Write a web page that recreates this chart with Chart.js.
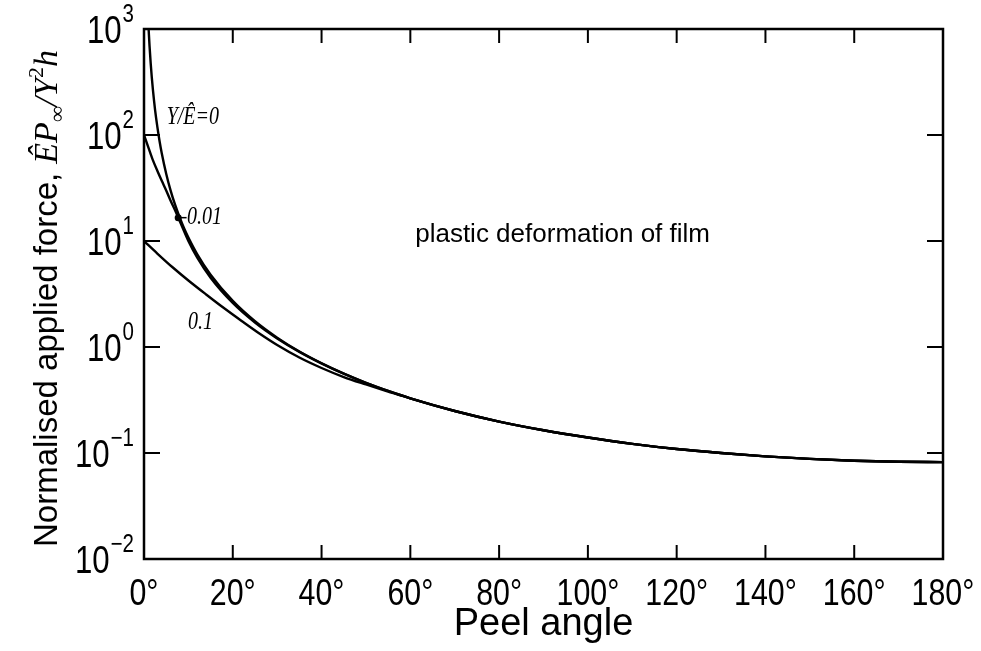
<!DOCTYPE html>
<html>
<head>
<meta charset="utf-8">
<script src="https://cdn.jsdelivr.net/npm/chart.js@4.4.1/dist/chart.umd.min.js"></script>
<style>
  html, body { margin: 0; padding: 0; background: #fff; }
</style>
</head>
<body>
<canvas id="peel" width="981" height="651"></canvas>
<script>
// valeurs : angle de pelage (deg) -> force normalisée
const angles0 = [1.04, 1.25, 1.5, 1.75, 2, 2.5, 3, 3.5, 4, 5, 6, 7, 8, 9, 10, 12, 15, 20, 25, 30, 35, 40, 45, 50, 55, 60, 70, 80, 90, 100, 110, 120, 130, 140, 150, 160, 170, 180];
const force0 = [1000, 689, 479, 352, 269, 172, 120, 87.9, 67.3, 43.1, 29.9, 22.0, 16.9, 13.3, 10.8, 7.50, 4.81, 2.72, 1.75, 1.224, 0.906, 0.701, 0.56, 0.459, 0.385, 0.328, 0.249, 0.198, 0.164, 0.140, 0.122, 0.109, 0.100, 0.093, 0.088, 0.0845, 0.0826, 0.082];

const angles001 = [0, 1, 2, 3, 4, 5, 6, 7, 8, 10, 12, 15, 20, 25, 30, 35, 40, 45, 50, 55, 60, 70, 80, 90, 100, 110, 120, 130, 140, 150, 160, 170, 180];
const force001 = [100, 76, 58, 46, 37, 30, 24, 19.5, 15.6, 10.0, 6.95, 4.5, 2.6, 1.70, 1.205, 0.90, 0.70, 0.56, 0.459, 0.385, 0.328, 0.249, 0.198, 0.164, 0.140, 0.122, 0.109, 0.100, 0.093, 0.088, 0.0845, 0.0826, 0.082];

const angles01 = [0, 3, 6.5, 10, 14, 18, 22, 26, 30, 35, 40, 45, 50, 55, 60, 70, 80, 90, 100, 110, 120, 130, 140, 150, 160, 170, 180];
const force01 = [10, 7.62, 5.62, 4.24, 3.13, 2.33, 1.76, 1.34, 1.044, 0.796, 0.634, 0.521, 0.443, 0.380, 0.327, 0.249, 0.198, 0.164, 0.140, 0.122, 0.109, 0.100, 0.093, 0.088, 0.0845, 0.0826, 0.082];

const xTicks = [0, 20, 40, 60, 80, 100, 120, 140, 160, 180];
const yTicks = [0.01, 0.1, 1, 10, 100, 1000];
const yExpo = ['\u22122', '\u22121', '0', '1', '2', '3'];

const sans = "'Liberation Sans', Arial, sans-serif";
const serif = "'Liberation Serif', 'Times New Roman', serif";

function pts(xs, ys) {
  return xs.map((v, i) => ({ x: v, y: ys[i] }));
}

function serie(xs, ys) {
  return {
    data: pts(xs, ys),
    borderColor: '#000',
    borderWidth: 2.4,
    pointRadius: 0,
    cubicInterpolationMode: 'monotone',
    fill: false
  };
}

// texte un peu condensé (la figure d'origine est resserrée en largeur)
function txt(ctx, s, x, y, font, align, sx) {
  ctx.save();
  ctx.translate(x, y);
  ctx.scale(sx, 1);
  ctx.font = font;
  ctx.textAlign = align;
  ctx.fillText(s, 0, 0);
  ctx.restore();
}

// ticks vers l'intérieur, cadre, étiquettes, titre Y et annotations
const decor = {
  id: 'decor',
  afterDraw(chart) {
    const { ctx, chartArea: a, scales: { x, y } } = chart;
    const seg = (x1, y1, x2, y2) => { ctx.beginPath(); ctx.moveTo(x1, y1); ctx.lineTo(x2, y2); ctx.stroke(); };
    ctx.save();
    ctx.strokeStyle = '#000';
    ctx.fillStyle = '#000';
    ctx.lineWidth = 2;
    xTicks.forEach(v => {
      const px = x.getPixelForValue(v);
      seg(px, a.bottom, px, a.bottom - 14);
      seg(px, a.top, px, a.top + 14);
    });
    yTicks.forEach(v => {
      const py = y.getPixelForValue(v);
      seg(a.left, py, a.left + 16, py);
      seg(a.right, py, a.right - 16, py);
    });
    ctx.lineWidth = 2.5;
    ctx.strokeRect(a.left, a.top, a.right - a.left, a.bottom - a.top);

    ctx.textBaseline = 'alphabetic';
    // étiquettes de l'axe x
    xTicks.forEach(v => {
      txt(ctx, v + '\u00B0', x.getPixelForValue(v), a.bottom + 46, '37px ' + sans, 'center', 0.82);
    });
    // étiquettes de l'axe y : 10 puis exposant
    yTicks.forEach((v, i) => {
      const py = y.getPixelForValue(v);
      ctx.font = '25px ' + sans;
      const we = ctx.measureText(yExpo[i]).width * 0.82;
      const xe = a.left - 10 - we;
      txt(ctx, yExpo[i], xe, py - 7, '25px ' + sans, 'left', 0.82);
      txt(ctx, '10', xe - 1, py + 14, '38px ' + sans, 'right', 0.82);
    });

    // titre de l'axe y (tourné)
    const parts = [
      { t: 'Normalised applied force, ', f: '33px ' + sans, dy: 0 },
      { t: '\u00CA', f: 'italic 34px ' + serif, dy: 0 },
      { t: 'P', f: 'italic 34px ' + serif, dy: 0 },
      { t: '\u221E', f: 'italic 22px ' + serif, dy: 7 },
      { t: '/', f: 'italic 34px ' + serif, dy: 0 },
      { t: 'Y', f: 'italic 34px ' + serif, dy: 0 },
      { t: '2', f: '22px ' + serif, dy: -14 },
      { t: 'h', f: 'italic 34px ' + serif, dy: 0 }
    ];
    ctx.save();
    ctx.translate(57, 547);
    ctx.rotate(-Math.PI / 2);
    ctx.textAlign = 'left';
    let off = 0;
    parts.forEach(p => {
      ctx.font = p.f;
      ctx.fillText(p.t, off, p.dy);
      off += ctx.measureText(p.t).width;
    });
    ctx.restore();

    // annotations des courbes
    ctx.textBaseline = 'middle';
    const fIt = 'italic 25px ' + serif;
    txt(ctx, 'Y/\u00CA=0', x.getPixelForValue(5.1), y.getPixelForValue(146), fIt, 'left', 0.8);
    const dx = x.getPixelForValue(7.7), dy = y.getPixelForValue(16.6);
    ctx.beginPath();
    ctx.arc(dx, dy, 3.5, 0, Math.PI * 2);
    ctx.fill();
    ctx.lineWidth = 1.5;
    seg(dx, dy, x.getPixelForValue(9.6), dy);
    txt(ctx, '0.01', x.getPixelForValue(9.7), dy, fIt, 'left', 0.8);
    txt(ctx, '0.1', x.getPixelForValue(9.9), y.getPixelForValue(1.72), fIt, 'left', 0.8);

    txt(ctx, 'plastic deformation of film', x.getPixelForValue(94.3), y.getPixelForValue(11.4), '26px ' + sans, 'center', 1);
    ctx.restore();
  }
};

new Chart(document.getElementById('peel'), {
  type: 'line',
  data: {
    datasets: [serie(angles0, force0), serie(angles001, force001), serie(angles01, force01)]
  },
  options: {
    responsive: false,
    animation: false,
    layout: { padding: { left: 0, right: 38, top: 29, bottom: 0 } },
    plugins: { legend: { display: false }, tooltip: { enabled: false } },
    scales: {
      x: {
        type: 'linear',
        min: 0,
        max: 180,
        grid: { display: false, drawTicks: false },
        border: { display: false },
        afterBuildTicks: s => { s.ticks = xTicks.map(v => ({ value: v })); },
        afterFit: s => { s.height = 92; },
        ticks: { display: false },
        title: {
          display: true,
          text: 'Peel angle',
          color: '#000',
          padding: { top: 0, bottom: 4 },
          font: { family: sans, size: 38 }
        }
      },
      y: {
        type: 'logarithmic',
        min: 0.01,
        max: 1000,
        grid: { display: false, drawTicks: false },
        border: { display: false },
        afterBuildTicks: s => { s.ticks = yTicks.map(v => ({ value: v })); },
        afterFit: s => { s.width = 144; },
        ticks: { display: false }
      }
    }
  },
  plugins: [decor]
});
</script>
</body>
</html>
